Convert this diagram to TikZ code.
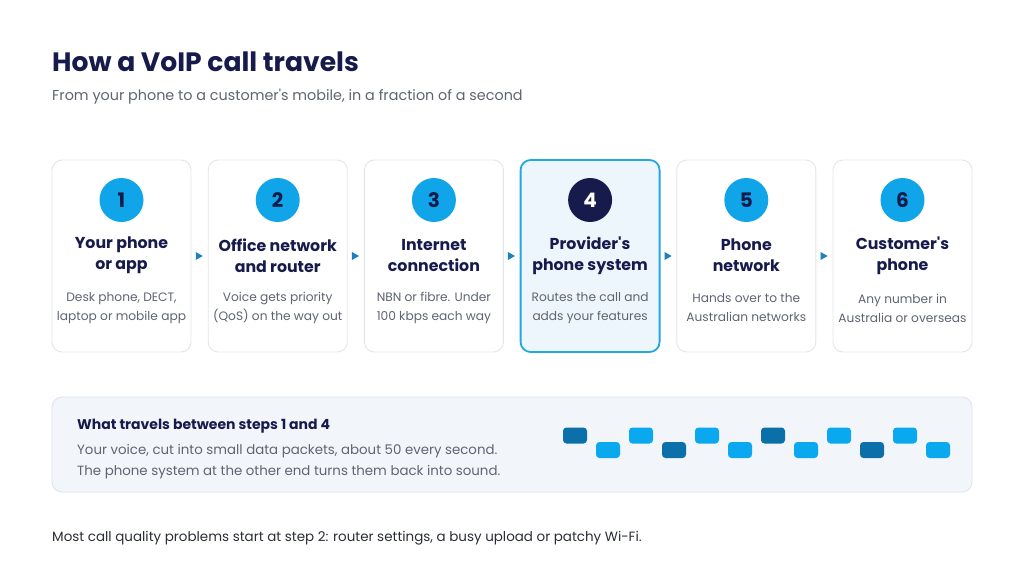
\documentclass[tikz,border=0pt]{standalone}
\usepackage{fontspec}
\setmainfont{Poppins}
\usetikzlibrary{arrows.meta,calc,positioning,shapes.geometric}

\definecolor{inknavy}{HTML}{171B4C}     % Headings
\definecolor{inkgray}{HTML}{5E6472}     % Body text
\definecolor{inkdark}{HTML}{2A2D36}     % Footer text
\definecolor{cardedge}{HTML}{E2E6EB}    % Card border
\definecolor{skyblue}{HTML}{10A5E8}     % Step circles
\definecolor{hotfill}{HTML}{EEF6FD}     % Highlighted card
\definecolor{hotedge}{HTML}{22A8DF}     % Highlighted border
\definecolor{flowblue}{HTML}{1E7FC0}    % Small arrows
\definecolor{boxfill}{HTML}{F2F6FA}     % Info box
\definecolor{boxedge}{HTML}{DCE4EC}     % Info box border
\definecolor{pktdark}{HTML}{0B6FAA}     % Dark packet
\definecolor{pktlight}{HTML}{0AA8EE}    % Light packet

\begin{document}
\begin{tikzpicture}[
    x=1pt, y=-1pt,
    line join=round,
    cardbox/.style={draw=cardedge, line width=0.9pt, fill=white,
        rounded corners=10pt, minimum width=139pt, minimum height=192pt,
        inner sep=0pt},
    cardhot/.style={cardbox, draw=hotedge, line width=1.8pt, fill=hotfill},
    numdot/.style={circle, fill=skyblue, minimum size=44pt, inner sep=0pt,
        text=inknavy, font=\fontsize{20}{20}\selectfont\bfseries},
    numhot/.style={numdot, fill=inknavy, text=white},
    steptitle/.style={align=center, text=inknavy,
        font=\fontsize{15.8}{21}\selectfont\bfseries},
    stepnote/.style={align=center, text=inkgray,
        font=\fontsize{12.2}{19}\selectfont},
    pointer/.style={isosceles triangle, isosceles triangle stretches,
        fill=flowblue, minimum height=7pt, minimum width=8pt, inner sep=0pt},
    packet/.style={rounded corners=3.5pt, minimum width=24pt,
        minimum height=16pt, inner sep=0pt}
]

\useasboundingbox[fill=white] (0,0) rectangle (1024,576);

% -------------------------------------------------
% Heading
% -------------------------------------------------
\node[anchor=base west, text=inknavy, inner sep=0pt,
    font=\fontsize{26.6}{27}\selectfont\bfseries] (title) at (52,71)
{How a VoIP call travels};
\node[anchor=base west, text=inkgray, inner sep=0pt,
    font=\fontsize{14.35}{14.5}\selectfont] (subtitle) at (52,100)
{From your phone to a customer\textquotesingle s mobile, in a fraction of a second};

% -------------------------------------------------
% Six step cards
% -------------------------------------------------
\foreach \i/\cs/\ns/\head/\body in {
    1/cardbox/numdot/{Your phone\\or app}/{Desk phone, DECT,\\laptop or mobile app},
    2/cardbox/numdot/{Office network\\and router}/{Voice gets priority\\(QoS) on the way out},
    3/cardbox/numdot/{Internet\\connection}/{NBN or fibre. Under\\100 kbps each way},
    4/cardhot/numhot/{Provider\textquotesingle s\\phone system}/{Routes the call and\\adds your features},
    5/cardbox/numdot/{Phone\\network}/{Hands over to the\\Australian networks},
    6/cardbox/numdot/{Customer\textquotesingle s\\phone}/{Any number in\\Australia or overseas}} {
    \pgfmathsetmacro{\cx}{121.5+156.2*(\i-1)}
    \node[\cs] (card\i) at (\cx,256) {};
    \node[\ns] (num\i) at (\cx,200) {\i};
    \node[steptitle] (head\i) at (\cx,255.5) {\head};
    \node[stepnote] (note\i) at (\cx,308) {\body};
}

% Small arrows between the cards
\foreach \a [count=\b from 2] in {1,...,5} {
    \path (card\a.east) -- node[pointer, xshift=-1.5pt] (arr\a) {} (card\b.west);
}

% -------------------------------------------------
% Info box with packets
% -------------------------------------------------
\node[draw=boxedge, line width=0.9pt, fill=boxfill, rounded corners=10pt,
    minimum width=920pt, minimum height=95pt, inner sep=0pt]
    (infobox) at (512,444.5) {};

\node[anchor=west, text=inknavy, inner sep=0pt,
    font=\fontsize{14}{14}\selectfont\bfseries] (infohead) at (77,426)
{What travels between steps 1 and 4};
\node[anchor=west, text=inkgray, inner sep=0pt,
    font=\fontsize{13.35}{13.5}\selectfont] (infoline1) at (77,451.5)
{Your voice, cut into small data packets, about 50 every second.};
\node[anchor=west, text=inkgray, inner sep=0pt,
    font=\fontsize{13.35}{13.5}\selectfont] (infoline2) at (77,472.5)
{The phone system at the other end turns them back into sound.};

\foreach \k in {0,...,11} {
    \pgfmathsetmacro{\px}{575+33*\k}
    \pgfmathsetmacro{\py}{ifthenelse(mod(\k,2)==0,435.5,450)}
    \pgfmathtruncatemacro{\dk}{mod(\k,3)==0}
    \ifnum\dk=1
        \node[packet, fill=pktdark] (pkt\k) at (\px,\py) {};
    \else
        \node[packet, fill=pktlight] (pkt\k) at (\px,\py) {};
    \fi
}

% -------------------------------------------------
% Footer
% -------------------------------------------------
\node[anchor=west, text=inkdark, inner sep=0pt,
    font=\fontsize{13.45}{13.5}\selectfont] (footer) at (52,538)
{Most call quality problems start at step 2: router settings, a busy upload or patchy Wi-Fi.};

\end{tikzpicture}
\end{document}
